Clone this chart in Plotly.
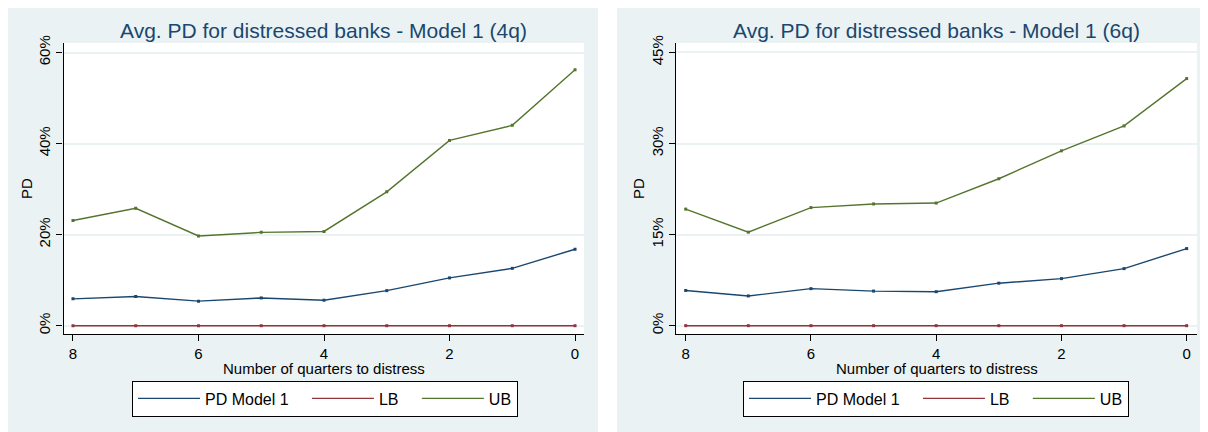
import plotly.graph_objects as go

quarters = [8, 7, 6, 5, 4, 3, 2, 1, 0]

# Model 1 (4q)
pd_4q = [0.059, 0.064, 0.054, 0.061, 0.056, 0.077, 0.105, 0.126, 0.168]
lb_4q = [0.0, 0.0, 0.0, 0.0, 0.0, 0.0, 0.0, 0.0, 0.0]
ub_4q = [0.231, 0.258, 0.197, 0.205, 0.207, 0.294, 0.407, 0.440, 0.562]

# Model 1 (6q)
pd_6q = [0.058, 0.049, 0.061, 0.057, 0.056, 0.070, 0.0775, 0.094, 0.127]
lb_6q = [0.0, 0.0, 0.0, 0.0, 0.0, 0.0, 0.0, 0.0, 0.0]
ub_6q = [0.192, 0.154, 0.1945, 0.2005, 0.202, 0.242, 0.288, 0.329, 0.407]

titles = ["Avg. PD for distressed banks - Model 1 (4q)",
          "Avg. PD for distressed banks - Model 1 (6q)"]
series_names = ["PD Model 1", "LB", "UB"]
colors = ["#1a476f", "#90353b", "#55752f"]
x_ticks = [8, 6, 4, 2, 0]

# page is offset by the default 8px body margin
OFF = 8
W, H = 1208 - OFF, 432 - OFF
BG = "#eaf2f3"
FONT = "Liberation Sans, Arial, sans-serif"
PAD = "\u00a0\u00a0\u00a0"

def px_x(p):
    return (p - OFF) / W

def px_y(p):
    return 1 - (p - OFF) / H

fig = go.Figure()

panels = [
    dict(data=[pd_4q, lb_4q, ub_4q], xa="x", ya="y", legend="legend",
         plot=(63.5, 584), bg=(5, 598), yr=[-0.0182, 0.6209], dt=0.2,
         xr=[8.151, -0.143], ytitle_x=27),
    dict(data=[pd_6q, lb_6q, ub_6q], xa="x2", ya="y2", legend="legend2",
         plot=(676, 1197), bg=(617, 1210), yr=[-0.0137, 0.4656], dt=0.15,
         xr=[8.155, -0.165], ytitle_x=639),
]

PLOT_TOP, PLOT_BOT = 43, 334

shapes = []
annotations = []
for i, p in enumerate(panels):
    for k, (name, vals, col) in enumerate(zip(series_names, p["data"], colors)):
        label = name + (PAD if k < len(series_names) - 1 else "")
        fig.add_trace(go.Scatter(
            x=quarters, y=vals, name=label, mode="lines",
            line=dict(color=col, width=1.4),
            xaxis=p["xa"], yaxis=p["ya"], legend=p["legend"]))
        fig.add_trace(go.Scatter(
            x=quarters, y=vals, name=name, mode="markers", showlegend=False,
            marker=dict(color=col, size=3, symbol="square"),
            xaxis=p["xa"], yaxis=p["ya"], hoverinfo="skip"))
    shapes.append(dict(type="rect", xref="paper", yref="paper",
                       x0=px_x(p["bg"][0]), x1=px_x(p["bg"][1]),
                       y0=px_y(440), y1=px_y(2), fillcolor=BG, line_width=0,
                       layer="below"))
    shapes.append(dict(type="rect", xref="paper", yref="paper",
                       x0=px_x(p["plot"][0]), x1=px_x(p["plot"][1]),
                       y0=px_y(PLOT_BOT), y1=px_y(PLOT_TOP), fillcolor="white",
                       line_width=0, layer="below"))
    cx = (p["plot"][0] + p["plot"][1]) / 2
    annotations.append(dict(text=titles[i], xref="paper", yref="paper",
                            x=px_x(cx), y=px_y(30), showarrow=False,
                            xanchor="center", yanchor="middle",
                            font=dict(size=21, color="#1a476f", family=FONT)))
    annotations.append(dict(text="Number of quarters to distress", xref="paper",
                            yref="paper", x=px_x(cx), y=px_y(368),
                            showarrow=False, xanchor="center", yanchor="middle",
                            font=dict(size=15, color="black", family=FONT)))
    annotations.append(dict(text="PD", xref="paper", yref="paper",
                            x=px_x(p["ytitle_x"]), y=px_y(189), textangle=-90,
                            showarrow=False, xanchor="center", yanchor="middle",
                            font=dict(size=15, color="black", family=FONT)))

def xaxis(p, anchor):
    return dict(domain=[px_x(p["plot"][0]), px_x(p["plot"][1])],
                range=p["xr"], tickvals=x_ticks,
                showgrid=False, zeroline=False, showline=True,
                linecolor="black", linewidth=1.3, ticks="outside",
                ticklen=6, tickcolor="black", tickwidth=1.2,
                tickfont=dict(size=15, color="black", family=FONT),
                anchor=anchor)

def yaxis(p, anchor):
    return dict(domain=[px_y(PLOT_BOT), px_y(PLOT_TOP)], range=p["yr"],
                tickvals=[0, p["dt"], 2 * p["dt"], 3 * p["dt"]],
                tickformat=".0%", tickangle=-90,
                showgrid=True, gridcolor=BG, gridwidth=1.5,
                zeroline=False, showline=True, linecolor="black",
                linewidth=1.3, ticks="outside", ticklen=6,
                tickcolor="black", tickwidth=1.2,
                tickfont=dict(size=15, color="black", family=FONT),
                anchor=anchor)

legend_common = dict(orientation="h", xref="paper", yref="paper",
                     xanchor="center", yanchor="middle",
                     bgcolor="white", bordercolor="black", borderwidth=1,
                     itemwidth=62, itemclick=False, itemdoubleclick=False,
                     font=dict(size=16, color="black", family=FONT))

fig.update_layout(
    width=W, height=H,
    margin=dict(l=0, r=0, t=0, b=0, autoexpand=False),
    paper_bgcolor="white", plot_bgcolor="white",
    xaxis=xaxis(panels[0], "y"), yaxis=yaxis(panels[0], "x"),
    xaxis2=xaxis(panels[1], "y2"), yaxis2=yaxis(panels[1], "x2"),
    shapes=shapes, annotations=annotations,
    legend=dict(x=px_x(325), y=px_y(398.5), **legend_common),
    legend2=dict(x=px_x(936), y=px_y(398.5), **legend_common),
    font=dict(family=FONT),
)

fig.write_html("out.html")
